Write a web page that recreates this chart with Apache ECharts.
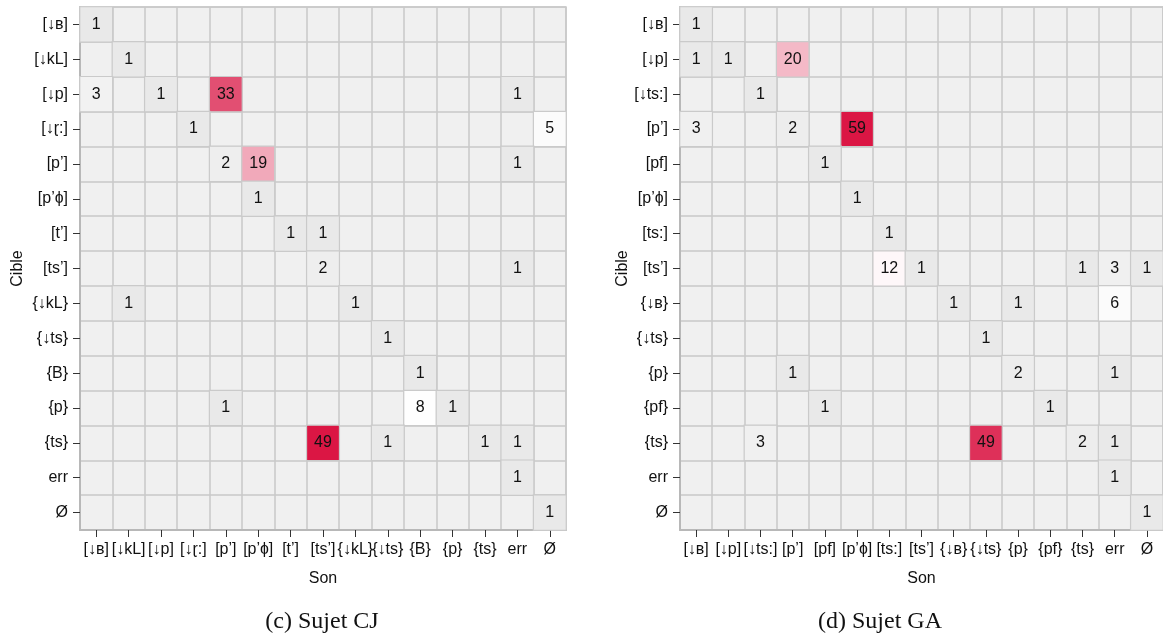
<!DOCTYPE html>
<html>
<head>
<meta charset="utf-8">
<script src="https://cdn.jsdelivr.net/npm/echarts@6/dist/echarts.min.js"></script>
<style>
html,body{margin:0;padding:0;background:#fff;}
#chart{width:1163px;height:639px;}
</style>
</head>
<body>
<div id="chart"></div>
<script>
// ---- data: Sujet CJ ----
const catsCJ = ['[↓ʙ]','[↓kL]','[↓p]','[↓ɽ:]','[p’]','[p’ɸ]','[t’]','[ts’]','{↓kL}','{↓ts}','{B}','{p}','{ts}','err','Ø'];
// [sonIndex, cibleIndex, count]
const cellsCJ = [
  [0,0,1],
  [1,1,1],
  [0,2,3],[2,2,1],[4,2,33],[13,2,1],
  [3,3,1],[14,3,5],
  [4,4,2],[5,4,19],[13,4,1],
  [5,5,1],
  [6,6,1],[7,6,1],
  [7,7,2],[13,7,1],
  [1,8,1],[8,8,1],
  [9,9,1],
  [10,10,1],
  [4,11,1],[10,11,8],[11,11,1],
  [7,12,49],[9,12,1],[12,12,1],[13,12,1],
  [13,13,1],
  [14,14,1]
];
// ---- data: Sujet GA ----
const catsGA = ['[↓ʙ]','[↓p]','[↓ts:]','[p’]','[pf]','[p’ɸ]','[ts:]','[ts’]','{↓ʙ}','{↓ts}','{p}','{pf}','{ts}','err','Ø'];
const cellsGA = [
  [0,0,1],
  [0,1,1],[1,1,1],[3,1,20],
  [2,2,1],
  [0,3,3],[3,3,2],[5,3,59],
  [4,4,1],
  [5,5,1],
  [6,6,1],
  [6,7,12],[7,7,1],[12,7,1],[13,7,3],[14,7,1],
  [8,8,1],[10,8,1],[13,8,6],
  [9,9,1],
  [3,10,1],[10,10,2],[13,10,1],
  [4,11,1],[11,11,1],
  [2,12,3],[9,12,49],[12,12,2],[13,12,1],
  [13,13,1],
  [14,14,1]
];
const captions = ['(c) Sujet CJ','(d) Sujet GA'];
const xTitle = 'Son', yTitle = 'Cible';

const colorStops = ['#e9e9e9','#fbfbfb','#ffffff','#fbe3e9','#f4b6c4','#ee9cb0','#ea7e96','#e66582','#e24f72','#e03e63','#de2f58','#dd2249','#db1644'];
const font = 'Liberation Sans, Arial, Helvetica, sans-serif';
const txt = '#111111';

function maxOf(cells){ return Math.max.apply(null, cells.map(c=>c[2])); }

const grids = [
  {left:80, top:7, width:486, height:523},
  {left:680, top:7, width:486, height:523}
];
const allCats = [catsCJ, catsGA];
const allCells = [cellsCJ, cellsGA];

const option = {
  backgroundColor:'#ffffff',
  animation:false,
  grid: grids.map(g=>Object.assign({show:true, backgroundColor:'#f0f0f0', borderColor:'#c8c8c8', borderWidth:1.5, containLabel:false}, g)),
  xAxis: allCats.map((cats,i)=>({
    type:'category', gridIndex:i, data:cats,
    name:xTitle, nameLocation:'middle', nameGap:41,
    nameTextStyle:{fontFamily:font, fontSize:16, color:txt},
    axisLine:{show:true, lineStyle:{color:'#b8b8b8', width:2}},
    axisTick:{show:true, alignWithLabel:true, length:7, lineStyle:{color:'#333', width:1}},
    axisLabel:{fontFamily:font, fontSize:16, color:txt, margin:12, interval:0},
    splitLine:{show:true, lineStyle:{color:'#c8c8c8', width:1.5}}
  })),
  yAxis: allCats.map((cats,i)=>({
    type:'category', gridIndex:i, data:cats, inverse:true,
    name:yTitle, nameLocation:'middle', nameGap: i===0 ? 54 : 47, nameRotate:90,
    nameTextStyle:{fontFamily:font, fontSize:16, color:txt},
    axisLine:{show:true, lineStyle:{color:'#b8b8b8', width:2}},
    axisTick:{show:true, alignWithLabel:true, length:7, lineStyle:{color:'#333', width:1}},
    axisLabel:{fontFamily:font, fontSize:16, color:txt, margin:12, interval:0},
    splitLine:{show:true, lineStyle:{color:'#c8c8c8', width:1.5}}
  })),
  visualMap: allCells.map((cells,i)=>({
    type:'continuous', show:false, seriesIndex:i, dimension:2,
    min:1, max:maxOf(cells),
    inRange:{color:colorStops}
  })),
  series: allCells.map((cells,i)=>({
    type:'heatmap', xAxisIndex:i, yAxisIndex:i, data:cells,
    itemStyle:{borderColor:'#cacaca', borderWidth:1.2},
    label:{show:true, fontFamily:font, fontSize:16, color:txt},
    emphasis:{disabled:true}
  })),
  graphic: captions.map((t,i)=>({
    type:'text', x: i===0 ? 322 : 880, y:622,
    style:{text:t, font:'24px "Liberation Serif", "Times New Roman", serif', fill:'#111', textAlign:'center', textVerticalAlign:'middle'}
  }))
};

const chart = echarts.init(document.getElementById('chart'), null, {renderer:'canvas'});
chart.setOption(option);
</script>
</body>
</html>
